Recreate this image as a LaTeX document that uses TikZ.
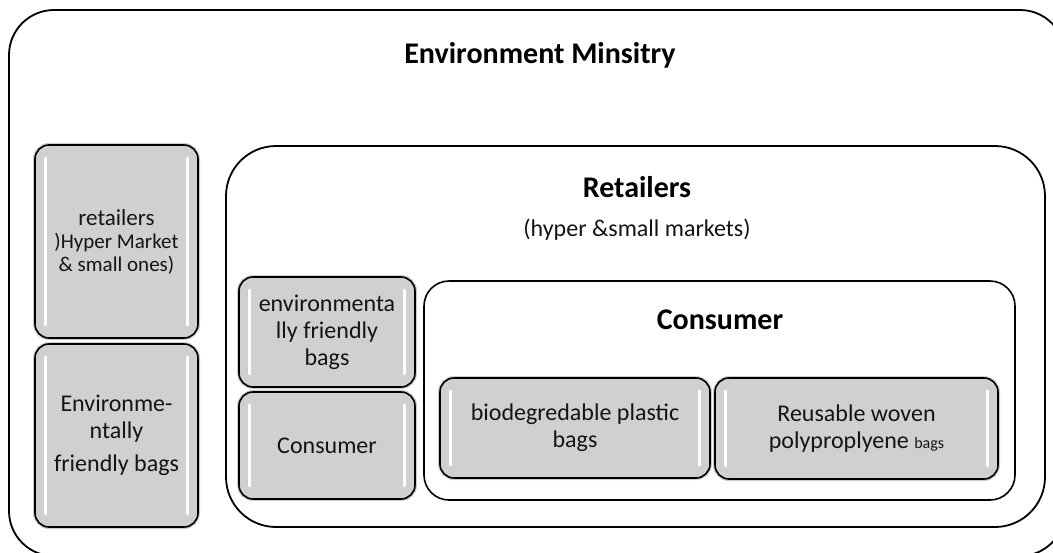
\documentclass[tikz,border=0pt]{standalone}
\usepackage{fontspec}
\setmainfont{Carlito}
\definecolor{boxgray}{RGB}{208,208,208}
\definecolor{txt}{RGB}{20,20,20}
\tikzset{
  frame/.style={draw=black, line width=1.8pt, fill=white, inner sep=0pt},
  gbox/.style={draw=black, line width=1.6pt, fill=boxgray, rounded corners=14pt,
    inner sep=0pt, align=center, text=txt, font=\fontsize{24}{27}\selectfont,
    preaction={draw=black!20, line width=4pt}},
  titletext/.style={font=\bfseries\fontsize{30}{34}\selectfont, text=black, inner sep=0pt},
  subtext/.style={font=\fontsize{24}{28}\selectfont, text=txt, inner sep=0pt},
  glossline/.style={draw=white, line width=3pt, line cap=round}
}
\newcommand\glossy[1]{%
  \draw[glossline] ([xshift=11pt,yshift=-14pt]#1.north west) -- ([xshift=11pt,yshift=14pt]#1.south west);
  \draw[glossline] ([xshift=-11pt,yshift=-14pt]#1.north east) -- ([xshift=-11pt,yshift=14pt]#1.south east);
}
\begin{document}
\begin{tikzpicture}[x=1pt,y=-1pt]
\useasboundingbox (0,0) rectangle (1053,552);
\clip (0,0) rectangle (1053,552);
% outer frame
\node[frame, rounded corners=45pt, minimum width=1056pt, minimum height=546pt] (ministry) at (537,283) {};
\node[titletext] (ministrytitle) at (540,55) {Environment Minsitry};
% left column
\node[gbox, minimum width=163pt, minimum height=193pt, font=\fontsize{21}{23}\selectfont] (lret) at (116.5,241.5)
  {{\fontsize{23}{23}\selectfont retailers}\\)Hyper Market\\\& small ones)};
\glossy{lret}
\node[gbox, minimum width=163pt, minimum height=183pt] (lenv) at (116.5,435.5)
  {Environme-\\ntally\\[6pt]friendly bags};
\glossy{lenv}
% retailers frame
\node[frame, rounded corners=50pt, minimum width=819pt, minimum height=381pt] (retailers) at (635.5,336.5) {};
\node[titletext] (retailerstitle) at (637,187) {Retailers};
\node[subtext] (retailerssub) at (637,230) {(hyper \&small markets)};
\node[gbox, minimum width=176pt, minimum height=110pt] (envbags) at (327,332)
  {environmenta\\lly friendly\\bags};
\glossy{envbags}
\node[gbox, minimum width=176pt, minimum height=107pt] (consumersmall) at (327,445.5) {Consumer};
\glossy{consumersmall}
% consumer frame
\node[frame, line width=1.6pt, rounded corners=25pt, minimum width=591pt, minimum height=219pt] (consumer) at (719.5,390.5) {};
\node[titletext] (consumertitle) at (720,320) {Consumer};
\node[gbox, minimum width=270pt, minimum height=100pt] (bio) at (575,428)
  {biodegredable plastic\\bags};
\glossy{bio}
\node[gbox, minimum width=283pt, minimum height=101pt] (reuse) at (856.5,428.5)
  {Reusable woven\\polyproplyene {\fontsize{16}{16}\selectfont bags}};
\glossy{reuse}
\end{tikzpicture}
\end{document}
